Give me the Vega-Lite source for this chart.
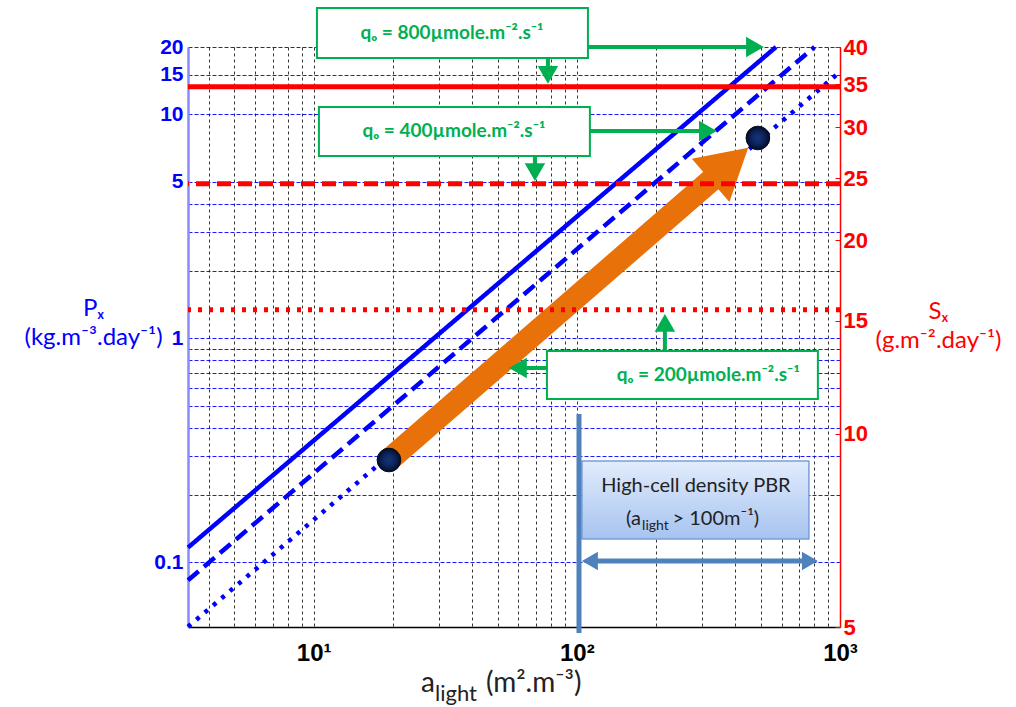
{
  "$schema": "https://vega.github.io/schema/vega-lite/v6.json",
  "width": 652,
  "height": 580,
  "autosize": {"type": "none"},
  "padding": {"left": 188, "top": 47, "right": 176, "bottom": 80},
  "background": "white",
  "config": {
    "view": {"stroke": null},
    "axisX": {"labelFont": "Liberation Sans", "labelFontSize": 24, "labelFontWeight": "bold", "labelColor": "#000000", "labelPadding": 14},
    "axisLeft": {"labelFont": "Liberation Sans", "labelFontSize": 21, "labelFontWeight": "bold", "labelColor": "#0000FF", "labelPadding": 5},
    "axisRight": {"labelFont": "Liberation Sans", "labelFontSize": 22, "labelFontWeight": "bold", "labelColor": "#FF0000"}
  },
  "resolve": {"scale": {"y": "independent"}, "axis": {"y": "independent"}},
  "layer": [
    {
      "layer": [
        {
          "data": {"values": [
            {"x": 3.33, "y": 0.11655, "s": "solid"}, {"x": 571.4, "y": 20, "s": "solid"},
            {"x": 3.33, "y": 0.08325, "s": "dashed"}, {"x": 800, "y": 20, "s": "dashed"},
            {"x": 3.33, "y": 0.0516, "s": "dotted"}, {"x": 1000, "y": 15.5, "s": "dotted"}
          ]},
          "mark": {"type": "line", "color": "#0000FF", "strokeWidth": 4.5, "strokeCap": "butt"},
          "encoding": {
            "x": {"field": "x", "type": "quantitative",
              "scale": {"type": "log", "domain": [3.33, 1000], "nice": false},
              "axis": {
                "values": [4,5,6,7,8,9,10,20,30,40,50,60,70,80,90,100,200,300,400,500,600,700,800,900,1000],
                "labelExpr": "datum.value == 10 ? '10¹' : datum.value == 100 ? '10²' : datum.value == 1000 ? '10³' : ''",
                "title": null, "grid": true, "gridColor": "#000000", "gridDash": [3, 3], "gridWidth": 0.8, "gridOpacity": 1,
                "ticks": false, "domainColor": "#000000", "domainWidth": 1.5,
                "labelFont": "Liberation Sans", "labelFontSize": 24, "labelFontWeight": "bold", "labelColor": "#000000",
                "labelPadding": 14, "labelOverlap": false, "labelFlush": false
              }},
            "y": {"field": "y", "type": "quantitative",
              "scale": {"type": "log", "domain": [0.0515, 20], "nice": false},
              "axis": {
                "values": [0.1,0.2,0.3,0.4,0.5,0.6,0.7,0.8,0.9,1,2,3,4,5,10,15,20],
                "labelExpr": "indexof([0.1,1,5,10,15,20], datum.value) >= 0 ? format(datum.value, '~g') : ''",
                "grid": true, "gridColor": "#0000FF", "gridDash": [4, 2], "gridWidth": 0.9, "gridOpacity": 1,
                "ticks": false, "domainColor": "#8a8aff", "domainWidth": 2.5,
                "labelFont": "Liberation Sans", "labelFontSize": 21, "labelFontWeight": "bold", "labelColor": "#0000FF",
                "labelPadding": 5, "labelOverlap": false, "labelFlush": false,
                "title": ["Pₓ", "(kg.m⁻³.day⁻¹)"], "titleAngle": 0, "titleX": -95, "titleY": 268,
                "titleAlign": "center", "titleBaseline": "alphabetic", "titleFont": "Lato", "titleFontSize": 24,
                "titleFontWeight": "normal", "titleColor": "#0000FF", "titleLineHeight": 29
              }},
            "strokeDash": {"field": "s", "type": "nominal",
              "scale": {"domain": ["solid", "dashed", "dotted"], "range": [[1, 0], [14, 7], [4, 7]]}, "legend": null}
          }
        },
        {
          "data": {"values": [{"x": 19.32, "y": 0.2866}, {"x": 334.7, "y": 5.257}]},
          "mark": {"type": "line", "color": "#E8710A", "strokeWidth": 23, "strokeCap": "butt"},
          "encoding": {
            "x": {"field": "x", "type": "quantitative", "scale": {"type": "log", "domain": [3.33, 1000], "nice": false}},
            "y": {"field": "y", "type": "quantitative", "scale": {"type": "log", "domain": [0.0515, 20], "nice": false}}
          }
        },
        {
          "data": {"values": [{"x": 379.9, "y": 6.007}]},
          "mark": {"type": "point", "shape": "triangle-up", "angle": 49, "size": 3300, "filled": true, "opacity": 1, "color": "#E8710A"},
          "encoding": {
            "x": {"field": "x", "type": "quantitative", "scale": {"type": "log", "domain": [3.33, 1000], "nice": false}},
            "y": {"field": "y", "type": "quantitative", "scale": {"type": "log", "domain": [0.0515, 20], "nice": false}}
          }
        },
        {
          "data": {"values": [{"x": 19.32, "y": 0.2866}, {"x": 487.5, "y": 7.85}]},
          "mark": {"type": "point", "shape": "circle", "size": 560, "filled": true, "opacity": 1,
            "fill": {"gradient": "radial", "x1": 0.5, "y1": 0.5, "r1": 0, "x2": 0.5, "y2": 0.5, "r2": 0.5,
              "stops": [{"offset": 0, "color": "#143578"}, {"offset": 0.5, "color": "#0d2660"}, {"offset": 1, "color": "#040c26"}]},
            "stroke": "#020818", "strokeWidth": 1},
          "encoding": {
            "x": {"field": "x", "type": "quantitative", "scale": {"type": "log", "domain": [3.33, 1000], "nice": false}},
            "y": {"field": "y", "type": "quantitative", "scale": {"type": "log", "domain": [0.0515, 20], "nice": false}}
          }
        },
        {
          "data": {"values": [
            {"x": 10.29, "x2": 110.2, "y": 29.86, "y2": 17.86},
            {"x": 10.47, "x2": 112.1, "y": 10.8, "y2": 6.52},
            {"x": 76.98, "x2": 824.1, "y": 0.879, "y2": 0.5366}
          ]},
          "mark": {"type": "rect", "fill": "#FFFFFF", "stroke": "#00B050", "strokeWidth": 2},
          "encoding": {
            "x": {"field": "x", "type": "quantitative", "scale": {"type": "log", "domain": [3.33, 1000], "nice": false}},
            "x2": {"field": "x2"},
            "y": {"field": "y", "type": "quantitative", "scale": {"type": "log", "domain": [0.0515, 20], "nice": false}},
            "y2": {"field": "y2"}
          }
        },
        {
          "data": {"values": [
            {"x": 110.2, "x2": 475, "y": 20, "y2": 20},
            {"x": 77.66, "x2": 77.66, "y": 17.86, "y2": 15.0},
            {"x": 112.1, "x2": 314.8, "y": 8.43, "y2": 8.43},
            {"x": 69.3, "x2": 69.3, "y": 6.52, "y2": 5.53},
            {"x": 216.1, "x2": 216.1, "y": 0.879, "y2": 1.172},
            {"x": 76.98, "x2": 59.73, "y": 0.738, "y2": 0.738}
          ]},
          "mark": {"type": "rule", "color": "#00B050", "strokeWidth": 4},
          "encoding": {
            "x": {"field": "x", "type": "quantitative", "scale": {"type": "log", "domain": [3.33, 1000], "nice": false}},
            "x2": {"field": "x2"},
            "y": {"field": "y", "type": "quantitative", "scale": {"type": "log", "domain": [0.0515, 20], "nice": false}},
            "y2": {"field": "y2"}
          }
        },
        {
          "data": {"values": [
            {"x": 475, "y": 20, "d": "right"},
            {"x": 77.66, "y": 15.0, "d": "down"},
            {"x": 314.8, "y": 8.43, "d": "right"},
            {"x": 69.3, "y": 5.53, "d": "down"},
            {"x": 216.1, "y": 1.172, "d": "up"},
            {"x": 59.73, "y": 0.738, "d": "left"}
          ]},
          "mark": {"type": "point", "size": 420, "filled": true, "opacity": 1, "color": "#00B050", "strokeWidth": 0},
          "encoding": {
            "x": {"field": "x", "type": "quantitative", "scale": {"type": "log", "domain": [3.33, 1000], "nice": false}},
            "y": {"field": "y", "type": "quantitative", "scale": {"type": "log", "domain": [0.0515, 20], "nice": false}},
            "shape": {"field": "d", "type": "nominal",
              "scale": {"domain": ["up", "down", "left", "right"], "range": ["triangle-up", "triangle-down", "triangle-left", "triangle-right"]}, "legend": null}
          }
        },
        {
          "data": {"values": [
            {"x": 33.53, "y": 23.1, "t": "qₒ = 800µmole.m⁻².s⁻¹"},
            {"x": 34.1, "y": 8.43, "t": "qₒ = 400µmole.m⁻².s⁻¹"},
            {"x": 315.7, "y": 0.6866, "t": "qₒ = 200µmole.m⁻².s⁻¹"}
          ]},
          "mark": {"type": "text", "font": "Lato", "fontSize": 19, "fontWeight": "bold", "color": "#00B050", "align": "center", "baseline": "middle"},
          "encoding": {
            "x": {"field": "x", "type": "quantitative", "scale": {"type": "log", "domain": [3.33, 1000], "nice": false}},
            "y": {"field": "y", "type": "quantitative", "scale": {"type": "log", "domain": [0.0515, 20], "nice": false}},
            "text": {"field": "t"}
          }
        },
        {
          "data": {"values": [{"x": 104.6, "x2": 761.7, "y": 0.2836, "y2": 0.1272}]},
          "mark": {"type": "rect", "stroke": "#7b9fd8", "strokeWidth": 1.5,
            "fill": {"gradient": "linear", "x1": 0, "y1": 0, "x2": 0, "y2": 1,
              "stops": [{"offset": 0, "color": "#e2ecfc"}, {"offset": 1, "color": "#a6c3f0"}]}},
          "encoding": {
            "x": {"field": "x", "type": "quantitative", "scale": {"type": "log", "domain": [3.33, 1000], "nice": false}},
            "x2": {"field": "x2"},
            "y": {"field": "y", "type": "quantitative", "scale": {"type": "log", "domain": [0.0515, 20], "nice": false}},
            "y2": {"field": "y2"}
          }
        },
        {
          "data": {"values": [{"x": 101.9, "y": 0.46, "y2": 0.0484}]},
          "mark": {"type": "rule", "color": "#4F81BD", "strokeWidth": 5},
          "encoding": {
            "x": {"field": "x", "type": "quantitative", "scale": {"type": "log", "domain": [3.33, 1000], "nice": false}},
            "y": {"field": "y", "type": "quantitative", "scale": {"type": "log", "domain": [0.0515, 20], "nice": false}},
            "y2": {"field": "y2"}
          }
        },
        {
          "data": {"values": [{"x": 112.1, "x2": 768.4, "y": 0.1015}]},
          "mark": {"type": "rule", "color": "#4F81BD", "strokeWidth": 5},
          "encoding": {
            "x": {"field": "x", "type": "quantitative", "scale": {"type": "log", "domain": [3.33, 1000], "nice": false}},
            "x2": {"field": "x2"},
            "y": {"field": "y", "type": "quantitative", "scale": {"type": "log", "domain": [0.0515, 20], "nice": false}}
          }
        },
        {
          "data": {"values": [{"x": 112.1, "y": 0.1015, "d": "left"}, {"x": 768.4, "y": 0.1015, "d": "right"}]},
          "mark": {"type": "point", "size": 340, "filled": true, "opacity": 1, "color": "#4F81BD", "strokeWidth": 0},
          "encoding": {
            "x": {"field": "x", "type": "quantitative", "scale": {"type": "log", "domain": [3.33, 1000], "nice": false}},
            "y": {"field": "y", "type": "quantitative", "scale": {"type": "log", "domain": [0.0515, 20], "nice": false}},
            "shape": {"field": "d", "type": "nominal",
              "scale": {"domain": ["up", "down", "left", "right"], "range": ["triangle-up", "triangle-down", "triangle-left", "triangle-right"]}, "legend": null}
          }
        },
        {
          "data": {"values": [{"x": 283.5, "y": 0.2063, "t": "High-cell density PBR"}]},
          "mark": {"type": "text", "font": "Lato", "fontSize": 20, "color": "#222222", "align": "center", "baseline": "alphabetic"},
          "encoding": {
            "x": {"field": "x", "type": "quantitative", "scale": {"type": "log", "domain": [3.33, 1000], "nice": false}},
            "y": {"field": "y", "type": "quantitative", "scale": {"type": "log", "domain": [0.0515, 20], "nice": false}},
            "text": {"field": "t"}
          }
        },
        {
          "data": {"values": [{"x": 153.7, "y": 0.147, "t": "(a"}, {"x": 231.0, "y": 0.147, "t": "> 100m⁻¹)"}]},
          "mark": {"type": "text", "font": "Lato", "fontSize": 20, "color": "#222222", "align": "left", "baseline": "alphabetic"},
          "encoding": {
            "x": {"field": "x", "type": "quantitative", "scale": {"type": "log", "domain": [3.33, 1000], "nice": false}},
            "y": {"field": "y", "type": "quantitative", "scale": {"type": "log", "domain": [0.0515, 20], "nice": false}},
            "text": {"field": "t"}
          }
        },
        {
          "data": {"values": [{"x": 177.0, "y": 0.1396, "t": "light"}]},
          "mark": {"type": "text", "font": "Lato", "fontSize": 14, "color": "#222222", "align": "left", "baseline": "alphabetic"},
          "encoding": {
            "x": {"field": "x", "type": "quantitative", "scale": {"type": "log", "domain": [3.33, 1000], "nice": false}},
            "y": {"field": "y", "type": "quantitative", "scale": {"type": "log", "domain": [0.0515, 20], "nice": false}},
            "text": {"field": "t"}
          }
        },
        {
          "data": {"values": [{"x": 25.57, "y": 0.0263, "t": "a"}, {"x": 45.14, "y": 0.0263, "t": "(m².m⁻³)"}]},
          "mark": {"type": "text", "font": "Lato", "fontSize": 28, "color": "#222222", "align": "left", "baseline": "alphabetic"},
          "encoding": {
            "x": {"field": "x", "type": "quantitative", "scale": {"type": "log", "domain": [3.33, 1000], "nice": false}},
            "y": {"field": "y", "type": "quantitative", "scale": {"type": "log", "domain": [0.0515, 20], "nice": false}},
            "text": {"field": "t"}
          }
        },
        {
          "data": {"values": [{"x": 28.9, "y": 0.0241, "t": "light"}]},
          "mark": {"type": "text", "font": "Lato", "fontSize": 22, "color": "#222222", "align": "left", "baseline": "alphabetic"},
          "encoding": {
            "x": {"field": "x", "type": "quantitative", "scale": {"type": "log", "domain": [3.33, 1000], "nice": false}},
            "y": {"field": "y", "type": "quantitative", "scale": {"type": "log", "domain": [0.0515, 20], "nice": false}},
            "text": {"field": "t"}
          }
        }
      ]
    },
    {
      "data": {"values": [{"s": 34.7, "d": "solid"}, {"s": 24.5, "d": "dashed"}, {"s": 15.6, "d": "dotted"}]},
      "mark": {"type": "rule", "color": "#FF0000", "strokeWidth": 5, "strokeCap": "butt"},
      "encoding": {
        "y": {"field": "s", "type": "quantitative",
          "scale": {"type": "log", "domain": [5, 40], "nice": false},
          "axis": {
            "orient": "right", "values": [5,10,15,20,25,30,35,40], "format": "~g",
            "grid": false, "ticks": true, "tickSize": -5, "tickColor": "#FF0000", "tickWidth": 1,
            "domainColor": "#FF0000", "domainWidth": 1.5,
            "labelFont": "Liberation Sans", "labelFontSize": 22, "labelFontWeight": "bold", "labelColor": "#FF0000",
            "labelPadding": 8, "labelOverlap": false, "labelFlush": false,
            "title": ["Sₓ", "(g.m⁻².day⁻¹)"], "titleAngle": 0, "titleX": 98, "titleY": 271,
            "titleAlign": "center", "titleBaseline": "alphabetic", "titleFont": "Lato", "titleFontSize": 24,
            "titleFontWeight": "normal", "titleColor": "#FF0000", "titleLineHeight": 29
          }},
        "strokeDash": {"field": "d", "type": "nominal",
          "scale": {"domain": ["solid", "dashed", "dotted"], "range": [[1, 0], [13, 5], [4, 5]]}, "legend": null}
      }
    }
  ]
}
